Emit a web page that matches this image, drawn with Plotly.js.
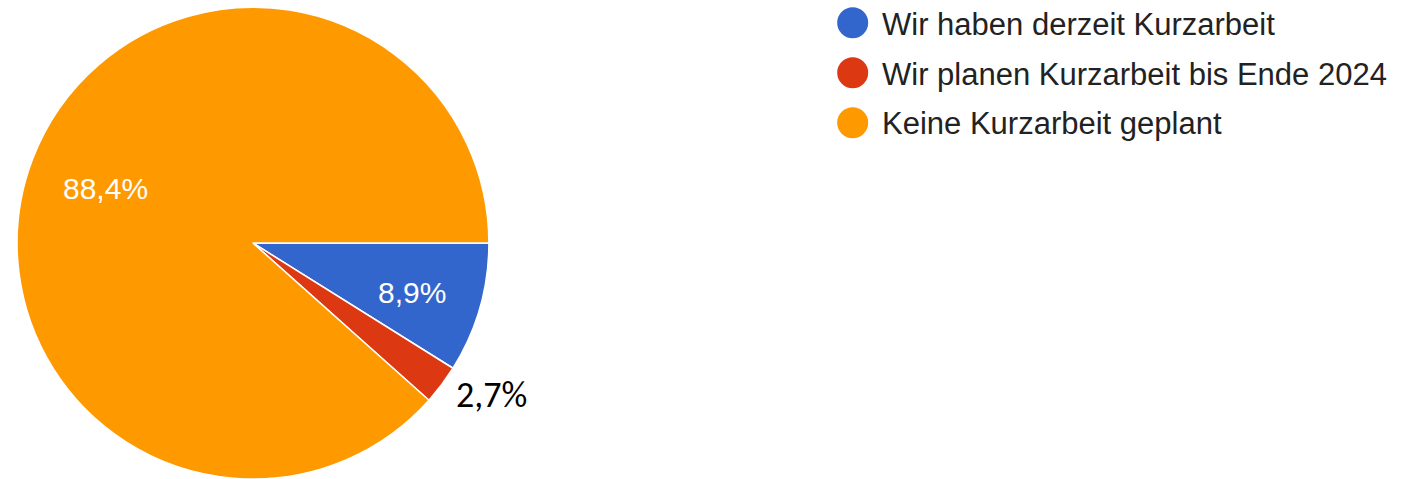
<!DOCTYPE html>
<html>
<head>
<meta charset="utf-8">
<script src="https://cdn.plot.ly/plotly-3.0.1.min.js"></script>
<style>html,body{margin:0;padding:0;background:#fff;overflow:hidden}</style>
</head>
<body>
<div id="chart" style="width:1401px;height:479px"></div>
<script>
const categories = ["Wir haben derzeit Kurzarbeit", "Wir planen Kurzarbeit bis Ende 2024", "Keine Kurzarbeit geplant"];
const values = [8.9, 2.7, 88.4];
const colors = ["#3366CC", "#DC3912", "#FF9900"];

const W = 1401, H = 479;
const fmt = v => v.toFixed(1).replace('.', ',') + '%';
const px = x => x / W;
const py = y => 1 - y / H;

// label placements (pixels)
const labelPos = [
  {x: 412, y: 292, color: '#ffffff', family: 'Liberation Sans, Arial, sans-serif', size: 30},
  {x: 491.5, y: 395, color: '#000000', family: 'Carlito, Liberation Sans, sans-serif', size: 36},
  {x: 105, y: 189, color: '#ffffff', family: 'Liberation Sans, Arial, sans-serif', size: 30}
];

const annotations = [];
const shapes = [];
values.forEach((v, i) => {
  const p = labelPos[i];
  annotations.push({
    xref: 'paper', yref: 'paper', x: px(p.x), y: py(p.y),
    xanchor: 'center', yanchor: 'middle', showarrow: false,
    text: fmt(v), font: {family: p.family, size: p.size, color: p.color}
  });
});

// custom legend with circle markers
categories.forEach((c, i) => {
  const cy = 22.7 + i * 50;
  const cx = 852.7, r = 15.5;
  shapes.push({
    type: 'circle', xref: 'paper', yref: 'paper',
    x0: px(cx - r), x1: px(cx + r), y0: py(cy + r), y1: py(cy - r),
    fillcolor: colors[i], line: {width: 0}
  });
  annotations.push({
    xref: 'paper', yref: 'paper', x: px(880), y: py(cy + 1.3),
    xanchor: 'left', yanchor: 'middle', showarrow: false,
    text: c, font: {family: 'Liberation Sans, Arial, sans-serif', size: 31, color: '#222222'}
  });
});

const data = [{
  type: 'pie',
  labels: categories,
  values: values,
  marker: {colors: colors, line: {color: '#ffffff', width: 1.5}},
  sort: false,
  direction: 'clockwise',
  rotation: 90,
  textinfo: 'none',
  hoverinfo: 'label+percent',
  domain: {x: [17 / W, 489 / W], y: [0, 0.985]},
  showlegend: false
}];

const layout = {
  width: W, height: H,
  margin: {l: 0, r: 0, t: 0, b: 0, pad: 0},
  paper_bgcolor: '#ffffff',
  plot_bgcolor: '#ffffff',
  showlegend: false,
  annotations: annotations,
  shapes: shapes
};

Plotly.newPlot('chart', data, layout, {displayModeBar: false, staticPlot: true});
</script>
</body>
</html>
